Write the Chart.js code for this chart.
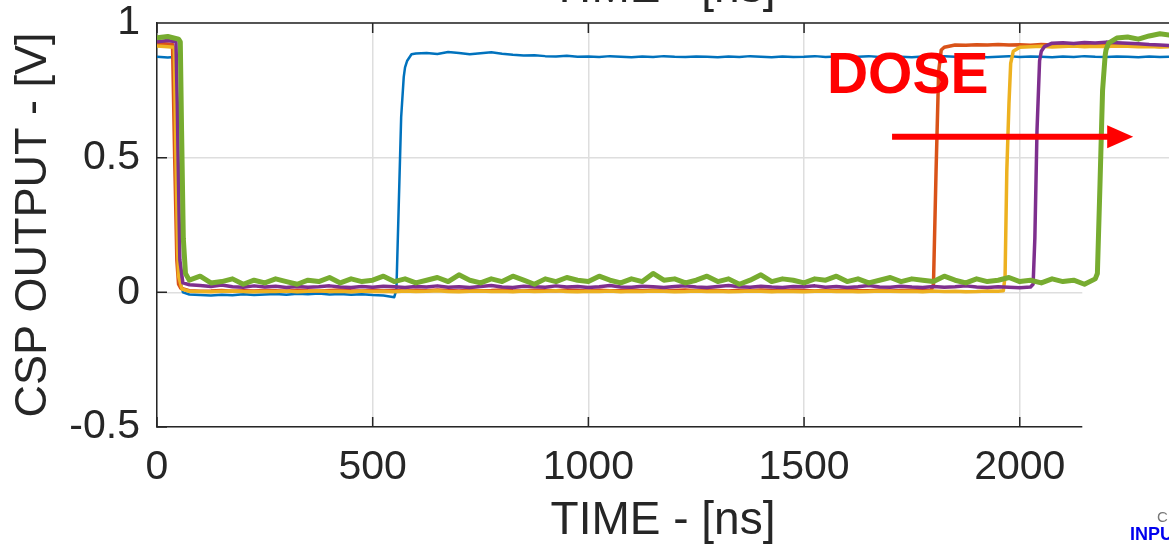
<!DOCTYPE html>
<html>
<head>
<meta charset="utf-8">
<script src="https://cdn.jsdelivr.net/npm/chart.js@4.4.1/dist/chart.umd.min.js"></script>
<style>
  html, body { margin: 0; padding: 0; background: #fff; overflow: hidden; }
  #wrap { width: 1169px; height: 544px; }
</style>
</head>
<body>
<div id="wrap"><canvas id="myChart" width="1169" height="544"></canvas></div>
<script>
// CSP output vs time, rising edge moves right with dose

// sample times (ns)
const timeNs = [0,25,50,75,100,125,150,175,200,225,
    250,275,300,325,350,375,400,425,450,475,
    500,525,550,575,600,625,650,675,700,725,
    750,775,800,825,850,875,900,925,950,975,
    1000,1025,1050,1075,1100,1125,1150,1175,1200,1225,
    1250,1275,1300,1325,1350,1375,1400,1425,1450,1475,
    1500,1525,1550,1575,1600,1625,1650,1675,1700,1725,
    1750,1775,1800,1825,1850,1875,1900,1925,1950,1975,
    2000,2025,2050,2075,2100,2125,2150,2175,2200,2225,
    2250,2275,2300,2325,2350];

// output (V) at each sample time
const blueV = [0.875,0.872,0.15,-0.008,-0.010,-0.012,-0.009,-0.011,-0.007,-0.010,
    -0.008,-0.006,-0.009,-0.005,-0.007,-0.004,-0.008,-0.006,-0.009,-0.007,
    -0.010,-0.012,-0.018,0.835,0.887,0.889,0.885,0.892,0.889,0.884,
    0.888,0.891,0.886,0.882,0.879,0.880,0.877,0.876,0.878,0.875,
    0.876,0.874,0.877,0.875,0.873,0.876,0.874,0.877,0.875,0.874,
    0.876,0.875,0.873,0.876,0.874,0.877,0.875,0.873,0.876,0.874,
    0.875,0.877,0.874,0.876,0.873,0.875,0.877,0.874,0.876,0.875,
    0.873,0.876,0.874,0.877,0.875,0.874,0.876,0.873,0.875,0.877,
    0.874,0.876,0.875,0.873,0.876,0.874,0.877,0.875,0.874,0.876,
    0.875,0.873,0.876,0.874,0.875];
const orangeV = [0.925,0.922,0.03,0.006,0.004,0.005,0.007,0.004,0.006,0.005,
    0.007,0.006,0.004,0.008,0.006,0.005,0.007,0.009,0.006,0.005,
    0.008,0.006,0.007,0.005,0.008,0.006,0.009,0.007,0.005,0.008,
    0.006,0.007,0.009,0.006,0.005,0.008,0.007,0.006,0.009,0.007,
    0.005,0.008,0.006,0.007,0.009,0.006,0.008,0.005,0.007,0.009,
    0.006,0.008,0.007,0.005,0.008,0.006,0.009,0.007,0.006,0.008,
    0.007,0.005,0.008,0.006,0.009,0.007,0.006,0.008,0.005,0.007,
    0.008,0.006,0.03,0.91,0.918,0.917,0.919,0.918,0.92,0.918,
    0.919,0.917,0.92,0.918,0.919,0.921,0.918,0.917,0.919,0.918,
    0.916,0.918,0.915,0.913,0.914];
const yellowV = [0.915,0.912,0.06,0.004,0.003,0.002,0.004,0.005,0.003,0.002,
    0.004,0.003,0.005,0.002,0.004,0.006,0.003,0.004,0.002,0.005,
    0.003,0.004,0.002,0.005,0.003,0.004,0.006,0.003,0.002,0.004,
    0.005,0.003,0.004,0.002,0.005,0.003,0.004,0.006,0.003,0.002,
    0.004,0.003,0.005,0.002,0.004,0.003,0.005,0.004,0.002,0.003,
    0.005,0.003,0.004,0.002,0.003,0.005,0.004,0.002,0.004,0.003,
    0.002,0.004,0.005,0.003,0.004,0.002,0.003,0.005,0.004,0.003,
    0.004,0.002,0.005,0.003,0.004,0.002,0.003,0.005,0.004,0.7,
    0.91,0.912,0.914,0.911,0.913,0.915,0.912,0.914,0.913,0.915,
    0.914,0.912,0.913,0.911,0.912];
const purpleV = [0.93,0.935,0.4,0.028,0.025,0.022,0.027,0.021,0.019,0.024,
    0.02,0.023,0.018,0.022,0.019,0.021,0.024,0.02,0.018,0.022,
    0.019,0.023,0.021,0.018,0.022,0.02,0.024,0.019,0.021,0.018,
    0.022,0.025,0.02,0.018,0.023,0.021,0.019,0.024,0.02,0.022,
    0.018,0.021,0.025,0.02,0.019,0.023,0.021,0.018,0.022,0.024,
    0.02,0.018,0.022,0.025,0.021,0.019,0.023,0.02,0.018,0.022,
    0.021,0.024,0.019,0.022,0.018,0.021,0.025,0.02,0.019,0.023,
    0.02,0.018,0.022,0.019,0.021,0.024,0.02,0.018,0.021,0.019,
    0.017,0.02,0.895,0.925,0.927,0.924,0.928,0.926,0.929,0.927,
    0.925,0.923,0.92,0.918,0.916];
const greenV = [0.945,0.95,0.94,0.045,0.06,0.035,0.04,0.05,0.03,0.045,
    0.035,0.05,0.04,0.03,0.045,0.04,0.055,0.035,0.05,0.04,
    0.045,0.06,0.04,0.05,0.035,0.045,0.055,0.04,0.065,0.045,
    0.035,0.05,0.04,0.06,0.045,0.03,0.05,0.04,0.055,0.045,
    0.04,0.06,0.045,0.035,0.05,0.04,0.07,0.045,0.05,0.035,
    0.045,0.06,0.04,0.05,0.03,0.045,0.065,0.04,0.05,0.045,
    0.035,0.05,0.045,0.06,0.04,0.05,0.035,0.045,0.055,0.04,
    0.05,0.045,0.04,0.06,0.045,0.035,0.05,0.04,0.045,0.055,
    0.04,0.045,0.035,0.05,0.04,0.045,0.03,0.05,0.9,0.944,
    0.948,0.94,0.952,0.96,0.955];

// extra samples on the switching edges
const blueEdgeT = [40,45,52,60,555,560,566,572,580,590];
const blueEdgeV = [0.874,0.5,0.06,0.0,0.01,0.3,0.65,0.8,0.86,0.884];
const orangeEdgeT = [36,41,46,55,1795,1806,1812,1818];
const orangeEdgeV = [0.92,0.5,0.12,0.015,0.008,0.45,0.82,0.9];
const yellowEdgeT = [40,44,48,58,1962,1966,1970,1979,1985];
const yellowEdgeV = [0.91,0.5,0.15,0.012,0.006,0.06,0.45,0.85,0.895];
const purpleEdgeT = [44,47,53,60,2031,2035,2040,2046,2057];
const purpleEdgeV = [0.93,0.7,0.12,0.035,0.03,0.2,0.6,0.86,0.912];
const greenEdgeT = [54,57,61,66,2180,2186,2192,2198,2206];
const greenEdgeV = [0.93,0.6,0.2,0.07,0.07,0.4,0.75,0.88,0.925];

const yTicks = [-0.5, 0, 0.5, 1];
const xTicks = [0, 500, 1000, 1500, 2000];

const FONT = "'Liberation Sans', Arial, Helvetica, sans-serif";
const INK = '#262626';

window.addEventListener('load', setup);

function buildSeries(gridV, edgeT, edgeV) {
    const pts = timeNs.map((t, i) => ({x: t, y: gridV[i]}));
    edgeT.forEach((t, i) => pts.push({x: t, y: edgeV[i]}));
    return pts.sort((a, b) => a.x - b.x);
}

const matlabLook = {
    id: 'matlabLook',
    afterDatasetsDraw(chart) {
        const {ctx, chartArea: a, scales: {x, y}} = chart;
        ctx.save();
        ctx.strokeStyle = INK;
        ctx.lineWidth = 1.5;
        ctx.beginPath();
        ctx.moveTo(a.left, a.top);
        ctx.lineTo(a.right, a.top);
        xTicks.forEach(v => {
            const px = x.getPixelForValue(v);
            ctx.moveTo(px, a.bottom); ctx.lineTo(px, a.bottom - 10);
            ctx.moveTo(px, a.top); ctx.lineTo(px, a.top + 10);
        });
        yTicks.forEach(v => {
            const py = y.getPixelForValue(v);
            ctx.moveTo(a.left, py); ctx.lineTo(a.left + 10, py);
        });
        ctx.stroke();
        // lower right corner is hidden by another figure
        const cx = x.getPixelForValue(2145);
        const cy = y.getPixelForValue(0.013);
        ctx.fillStyle = '#fff';
        ctx.fillRect(cx, cy, chart.width - cx, chart.height - cy);
        ctx.restore();
    },
    afterDraw(chart) {
        const {ctx, scales: {x, y}} = chart;
        ctx.save();
        // cut-off title of the plot above
        ctx.fillStyle = INK;
        ctx.font = '46px ' + FONT;
        ctx.textAlign = 'center';
        ctx.textBaseline = 'alphabetic';
        ctx.fillText('TIME - [ns]', (x.left + x.right) / 2, 2);

        // DOSE label and arrow
        ctx.fillStyle = '#ff0000';
        ctx.strokeStyle = '#ff0000';
        ctx.font = 'bold 57px ' + FONT;
        ctx.textAlign = 'left';
        ctx.fillText('DOSE', x.getPixelForValue(1553), y.getPixelForValue(0.741));
        const ay = y.getPixelForValue(0.578);
        const x0 = x.getPixelForValue(1704);
        const x1 = x.getPixelForValue(2263);
        ctx.lineWidth = 6;
        ctx.beginPath();
        ctx.moveTo(x0, ay);
        ctx.lineTo(x1 - 20, ay);
        ctx.stroke();
        ctx.beginPath();
        ctx.moveTo(x1, ay);
        ctx.lineTo(x1 - 26, ay - 11.5);
        ctx.lineTo(x1 - 26, ay + 11.5);
        ctx.closePath();
        ctx.fill();

        // bits of the neighbouring figure
        ctx.fillStyle = '#777';
        ctx.font = '15px ' + FONT;
        ctx.fillText('C', chart.width - 12, chart.height - 22);
        ctx.fillStyle = '#0000ee';
        ctx.font = 'bold 18px ' + FONT;
        ctx.fillText('INPUT', chart.width - 39, chart.height - 4);
        ctx.restore();
    }
};

function setup() {
    const ctx = document.getElementById('myChart').getContext('2d');
    const series = [
        {label: 'dose 0', data: buildSeries(blueV, blueEdgeT, blueEdgeV), color: '#0072BD', width: 2.5, order: 5},
        {label: 'dose 1', data: buildSeries(orangeV, orangeEdgeT, orangeEdgeV), color: '#D95319', width: 3.5, order: 4},
        {label: 'dose 2', data: buildSeries(yellowV, yellowEdgeT, yellowEdgeV), color: '#EDB120', width: 3.5, order: 3},
        {label: 'dose 3', data: buildSeries(purpleV, purpleEdgeT, purpleEdgeV), color: '#7E2F8E', width: 3.5, order: 2},
        {label: 'dose 4', data: buildSeries(greenV, greenEdgeT, greenEdgeV), color: '#77AC30', width: 5, order: 1}
    ];
    const myChart = new Chart(ctx, {
        type: 'line',
        data: {
            datasets: series.map(s => ({
                label: s.label,
                data: s.data,
                borderColor: s.color,
                backgroundColor: s.color,
                borderWidth: s.width,
                borderJoinStyle: 'round',
                pointRadius: 0,
                tension: 0,
                fill: false,
                order: s.order
            }))
        },
        options: {
            responsive: false,
            animation: false,
            devicePixelRatio: 1,
            layout: {padding: {top: 23, left: 0, right: 0, bottom: 0}},
            plugins: {legend: {display: false}, tooltip: {enabled: false}},
            scales: {
                x: {
                    type: 'linear',
                    min: 0,
                    max: 2346,
                    afterFit: s => { s.height = 117; },
                    afterBuildTicks: s => { s.ticks = xTicks.map(v => ({value: v})); },
                    grid: {color: '#dedede', lineWidth: 1.5, drawTicks: true, tickLength: 20, tickColor: 'rgba(0,0,0,0)'},
                    border: {color: INK, width: 1.5},
                    ticks: {
                        padding: 0,
                        color: INK,
                        font: {family: FONT, size: 41, lineHeight: 1},
                        callback: v => String(v)
                    },
                    title: {
                        display: true,
                        text: 'TIME - [ns]',
                        color: INK,
                        font: {family: FONT, size: 46, lineHeight: 1},
                        padding: {top: 0, bottom: 0}
                    }
                },
                y: {
                    min: -0.5,
                    max: 1,
                    afterFit: s => { s.width = 157; },
                    afterBuildTicks: s => { s.ticks = yTicks.map(v => ({value: v})); },
                    grid: {color: '#dedede', lineWidth: 1.5, drawTicks: true, tickLength: 17, tickColor: 'rgba(0,0,0,0)'},
                    border: {color: INK, width: 1.5},
                    ticks: {
                        padding: 0,
                        color: INK,
                        font: {family: FONT, size: 41, lineHeight: 1},
                        callback: v => String(v)
                    },
                    title: {
                        display: true,
                        text: 'CSP OUTPUT - [V]',
                        color: INK,
                        font: {family: FONT, size: 45, lineHeight: 1.2},
                        padding: {top: 7, bottom: 0}
                    }
                }
            }
        },
        plugins: [matlabLook]
    });
}
</script>
</body>
</html>
